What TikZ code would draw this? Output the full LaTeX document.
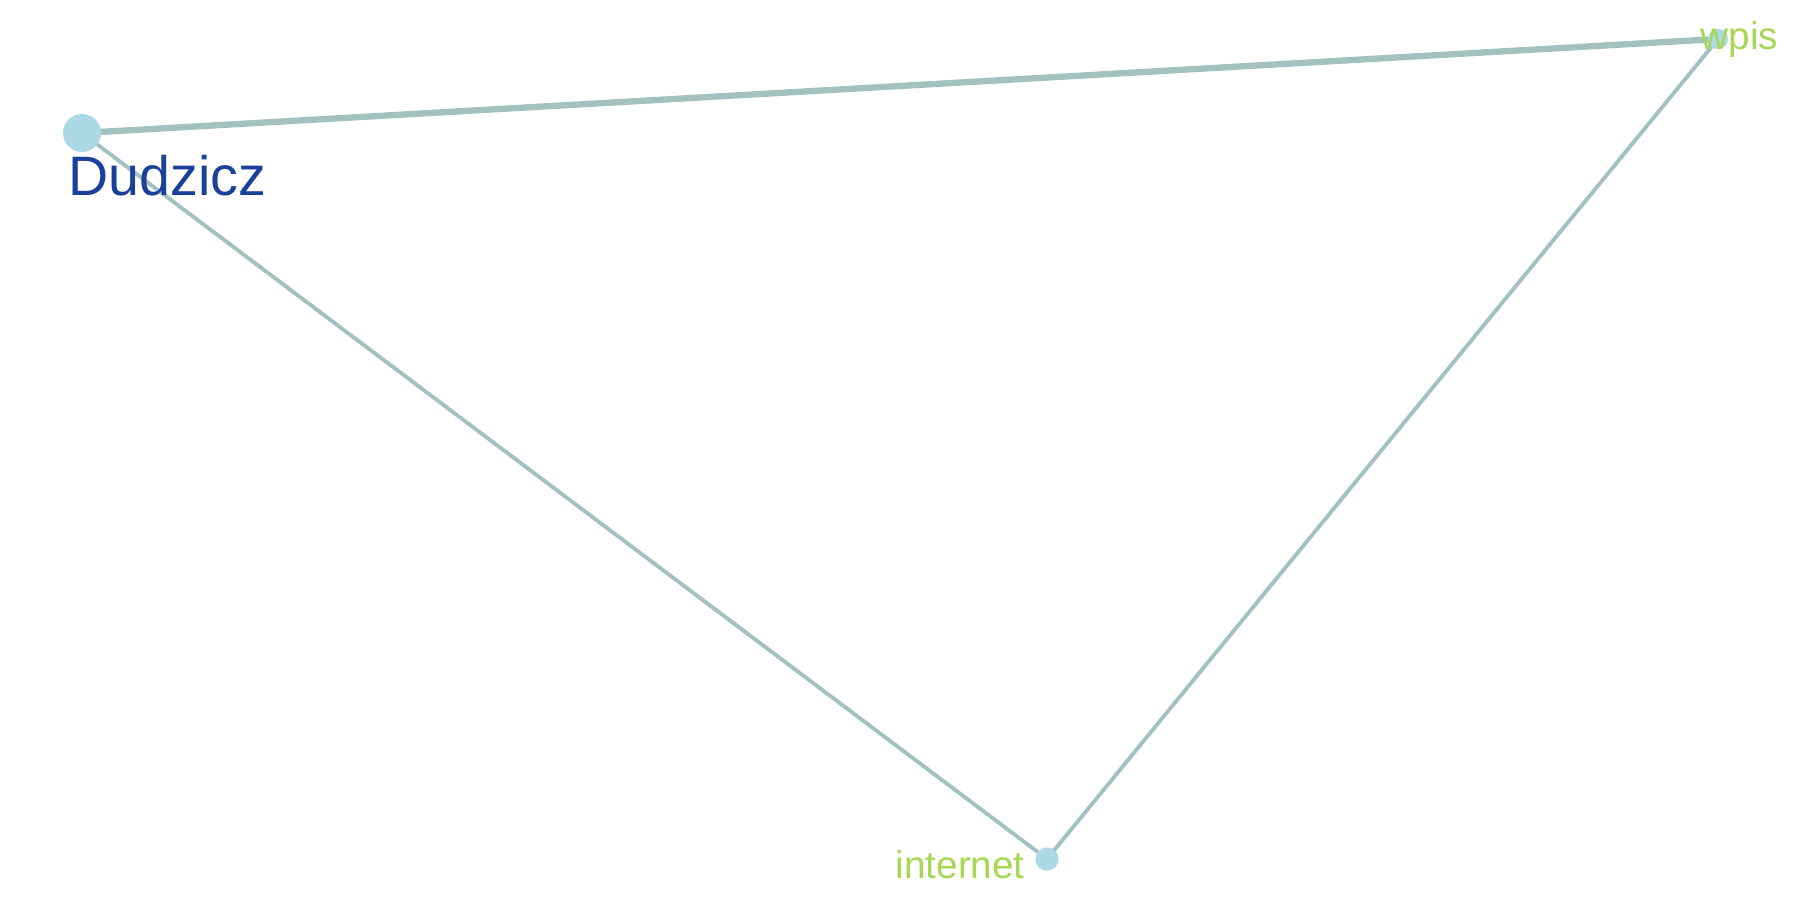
\documentclass[tikz,border=0pt]{standalone}
\usepackage{fontspec}
\setmainfont{Liberation Sans}
\usepackage{xcolor}
\usepackage{tikz}
\usetikzlibrary{positioning,calc,backgrounds}
\definecolor{edgegray}{HTML}{A3C1C1}
\definecolor{nodeblue}{HTML}{ADD8E6}
\definecolor{labelblue}{HTML}{1A409A}
\definecolor{labelgreen}{HTML}{A6D756}

\begin{document}
\begin{tikzpicture}[x=0.01cm, y=-0.01cm,
    vertex/.style={circle, fill=nodeblue, inner sep=0pt},
    link/.style={draw=edgegray, line width=1.1pt},
    word/.style={anchor=base west, inner sep=0pt}]
    \useasboundingbox (0,0) rectangle (1800,900);

    % vertices
    \node[vertex, minimum size=10.8pt] (dudzicz) at (82,133) {};
    \node[vertex, minimum size=5.7pt] (wpis) at (1718,39) {};
    \node[vertex, minimum size=6.6pt] (internet) at (1047,859) {};

    % links, behind the vertices
    \begin{pgfonlayer}{background}
    \draw[link, line width=1.8pt] (dudzicz.center) -- (wpis.center);
    \draw[link] (dudzicz.center) -- (internet.center);
    \draw[link] (internet.center) -- (wpis.center);
    \end{pgfonlayer}

    % labels
    \node[word, font=\fontsize{15.8}{19}\selectfont, text=labelblue] (dudzicz-lbl) at (68,195) {Dudzicz};
    \node[word, font=\fontsize{11}{13}\selectfont, text=labelgreen] (wpis-lbl) at (1700,49) {wpis};
    \node[word, font=\fontsize{11}{13}\selectfont, text=labelgreen] (internet-lbl) at (895,878) {internet};
\end{tikzpicture}
\end{document}
